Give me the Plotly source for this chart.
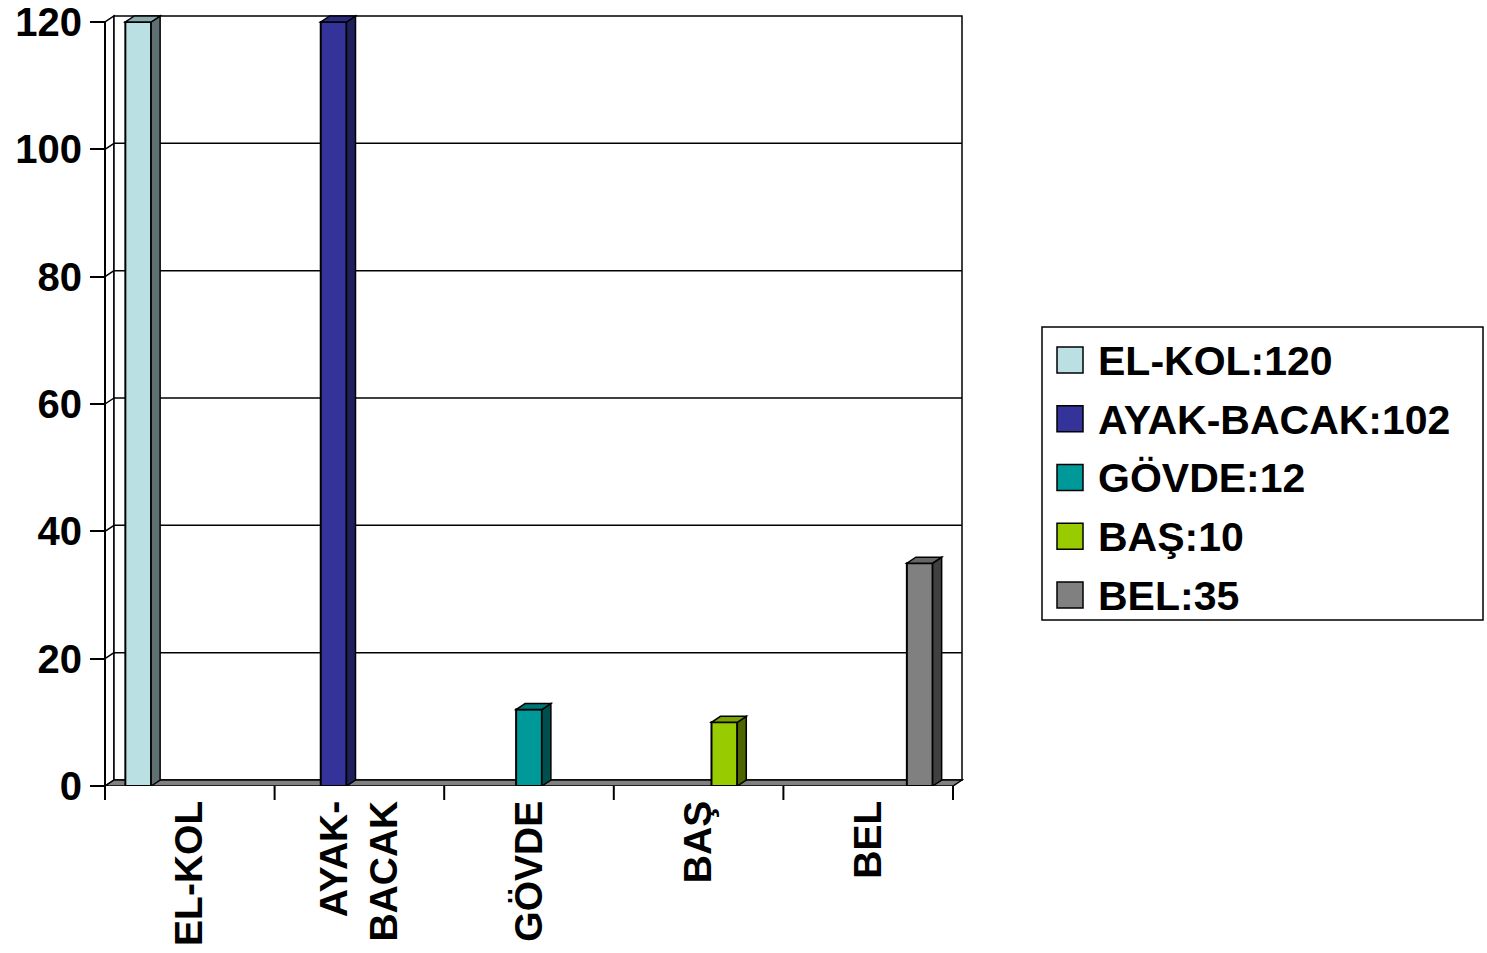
import plotly.graph_objects as go

# ---------------- data ----------------
categories = ["EL-KOL", "AYAK-BACAK", "GÖVDE", "BAŞ", "BEL"]
tick_labels = ["EL-KOL", "AYAK-<br>BACAK", "GÖVDE", "BAŞ", "BEL"]
values = [120, 120, 12, 10, 35]
legend_labels = ["EL-KOL:120", "AYAK-BACAK:102", "GÖVDE:12", "BAŞ:10", "BEL:35"]
y_ticks = [0, 20, 40, 60, 80, 100, 120]

# ---------------- styles ----------------
front_colors = ["#BBE0E3", "#333399", "#009999", "#99CC00", "#808080"]
side_colors = ["#5E7072", "#1F1F5C", "#004F4F", "#4D6600", "#404040"]
top_colors = ["#8CA9AB", "#2A2A80", "#007575", "#7AA300", "#666666"]
FONT = "Liberation Sans, Arial, sans-serif"

W, H = 1487, 953
PL, PR = 100, 964          # plot area (pixels)
PT, PB = 12, 786
FRONT_L, FRONT_R = 105, 953  # front plane x extent
Y120 = 22                    # pixel of value 120 on the front axis
DX_PX, DY_PX = 9, 6          # depth offset

CAT_PX = (FRONT_R - FRONT_L) / len(categories)
YPX = (PB - Y120) / 120.0
x_lo = -0.5 - (FRONT_L - PL) / CAT_PX
x_hi = -0.5 + (PR - FRONT_L) / CAT_PX
y_hi = (PB - PT) / YPX
dx = DX_PX / CAT_PX
dy = DY_PX / YPX
ph = PB - PT
pw = PR - PL

n = len(categories)
bargap = 0.24
bar_w = (1 - bargap) / n
ymax = y_ticks[-1]

fig = go.Figure()
for j, (cat, v) in enumerate(zip(categories, values)):
    fig.add_trace(go.Bar(
        x=[j], y=[v], name=cat, width=bar_w,
        offset=-(1 - bargap) / 2 + j * bar_w,
        marker=dict(color=front_colors[j], line=dict(color="black", width=2)),
        showlegend=False,
    ))

shapes = []
blk = dict(color="black", width=1.5)
# left side wall
shapes.append(dict(type="path", xref="x", yref="y", layer="below",
                   path=f"M{-0.5},{0} L{-0.5+dx},{dy} L{-0.5+dx},{ymax+dy} L{-0.5},{ymax} Z",
                   fillcolor="white", line=blk))
# back wall
shapes.append(dict(type="rect", xref="x", yref="y", layer="below",
                   x0=-0.5 + dx, x1=n - 0.5 + dx, y0=dy, y1=ymax + dy,
                   fillcolor="white", line=blk))
# gridlines
for v in y_ticks[1:-1]:
    shapes.append(dict(type="line", xref="x", yref="y", layer="below",
                       x0=-0.5 + dx, x1=n - 0.5 + dx, y0=v + dy, y1=v + dy, line=blk))
    shapes.append(dict(type="line", xref="x", yref="y", layer="below",
                       x0=-0.5, x1=-0.5 + dx, y0=v, y1=v + dy, line=blk))
# floor
shapes.append(dict(type="path", xref="x", yref="y", layer="below",
                   path=f"M{-0.5},0 L{n-0.5},0 L{n-0.5+dx},{dy} L{-0.5+dx},{dy} Z",
                   fillcolor="#808080", line=blk))
# front y-axis line
shapes.append(dict(type="line", xref="x", yref="y", layer="above",
                   x0=-0.5, x1=-0.5, y0=0, y1=ymax, line=dict(color="black", width=2)))
# x ticks at category boundaries
for k in range(n + 1):
    shapes.append(dict(type="line", xref="x", yref="paper", layer="above",
                       x0=k - 0.5, x1=k - 0.5, y0=0, y1=-14 / ph,
                       line=dict(color="black", width=2)))
# bar side and top faces
for j, v in enumerate(values):
    xl = j - (1 - bargap) / 2 + j * bar_w
    xr = xl + bar_w
    shapes.append(dict(type="path", xref="x", yref="y", layer="above",
                       path=f"M{xr},0 L{xr},{v} L{xr+dx},{v+dy} L{xr+dx},{dy} Z",
                       fillcolor=side_colors[j], line=blk))
    shapes.append(dict(type="path", xref="x", yref="y", layer="above",
                       path=f"M{xl},{v} L{xr},{v} L{xr+dx},{v+dy} L{xl+dx},{v+dy} Z",
                       fillcolor=top_colors[j], line=blk))


# legend (drawn manually in paper coordinates)
def px_x(p):
    return (p - PL) / pw


def px_y(p):
    return (PB - p) / ph


LEG_L, LEG_R, LEG_T, LEG_B = 1042, 1483, 327, 620
shapes.append(dict(type="rect", xref="paper", yref="paper",
                   x0=px_x(LEG_L), x1=px_x(LEG_R), y0=px_y(LEG_B), y1=px_y(LEG_T),
                   fillcolor="white", line=dict(color="black", width=1.5)))
annotations = []
row0, row_step, sq = 360, 58.75, 26
for j, lab in enumerate(legend_labels):
    cy = row0 + j * row_step
    shapes.append(dict(type="rect", xref="paper", yref="paper",
                       x0=px_x(1057), x1=px_x(1057 + sq),
                       y0=px_y(cy + sq / 2), y1=px_y(cy - sq / 2),
                       fillcolor=front_colors[j], line=dict(color="black", width=1.5)))
    annotations.append(dict(xref="paper", yref="paper", x=px_x(1096), y=px_y(cy + 1),
                            xanchor="left", yanchor="middle", text=lab, showarrow=False,
                            font=dict(family=FONT, size=41, color="black", weight="bold")))

fig.update_layout(
    width=W, height=H,
    margin=dict(l=PL, r=W - PR, t=PT, b=H - PB, pad=0),
    paper_bgcolor="white", plot_bgcolor="white",
    barmode="overlay",
    showlegend=False,
    shapes=shapes, annotations=annotations,
    font=dict(family=FONT, color="black"),
    xaxis=dict(range=[x_lo, x_hi], tickmode="array", tickvals=list(range(n)),
               ticktext=tick_labels, tickangle=-90, ticks="", showline=False,
               showgrid=False, zeroline=False, automargin=False,
               ticklabelstandoff=6,
               tickfont=dict(family=FONT, size=39, color="black", weight="bold")),
    yaxis=dict(range=[0, y_hi], tickmode="array", tickvals=y_ticks,
               ticks="outside", ticklen=15, tickwidth=2, tickcolor="black",
               showline=False, showgrid=False, zeroline=False, automargin=False,
               anchor="free", position=(FRONT_L - PL) / pw,
               tickfont=dict(family=FONT, size=40, color="black", weight="bold")),
)

fig.write_html("out.html", config={"displayModeBar": False},
               post_script="document.body.style.margin='0';document.body.style.padding='0';")
